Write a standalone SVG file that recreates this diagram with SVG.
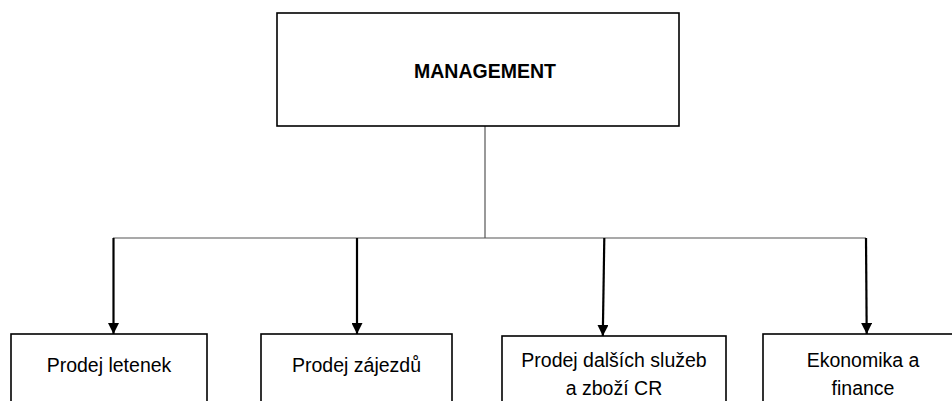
<svg xmlns="http://www.w3.org/2000/svg" width="952" height="401" viewBox="0 0 952 401">
<style>
.box{fill:#fff;stroke:#000;stroke-width:1.6}
.t{font-family:"Liberation Sans",Arial,sans-serif;font-size:19.5px;fill:#000;text-anchor:middle}
.b{font-weight:bold}
.thin{stroke:#555;stroke-width:1.2;fill:none}
.arr{stroke:#000;stroke-width:2.2;fill:none}
</style>
<defs>
<marker id="ah" viewBox="0 0 10 10" refX="10" refY="5" markerWidth="5" markerHeight="5" orient="auto" markerUnits="strokeWidth">
<path d="M0,0 L10,5 L0,10 Z" fill="#000"/>
</marker>
</defs>
<g id="connectors">
<line class="thin" x1="485" y1="126" x2="485" y2="238"/>
<line class="thin" x1="113" y1="238" x2="866" y2="238"/>
<line class="arr" x1="113.5" y1="238" x2="113.5" y2="334" marker-end="url(#ah)"/>
<line class="arr" x1="357" y1="238" x2="357" y2="334" marker-end="url(#ah)"/>
<line class="arr" x1="604.3" y1="238" x2="602.8" y2="336" marker-end="url(#ah)"/>
<line class="arr" x1="866" y1="238" x2="866.7" y2="334" marker-end="url(#ah)"/>
</g>
<g id="management">
<rect class="box" x="277" y="13" width="402" height="113"/>
<text class="t b" x="485" y="78">MANAGEMENT</text>
</g>
<g id="letenky">
<rect class="box" x="11" y="334" width="196" height="80"/>
<text class="t" x="109" y="372">Prodej letenek</text>
</g>
<g id="zajezdy">
<rect class="box" x="261" y="334" width="191" height="80"/>
<text class="t" x="356.5" y="372">Prodej zájezdů</text>
</g>
<g id="sluzby">
<rect class="box" x="502" y="336" width="224" height="80"/>
<text class="t" x="614" y="367">Prodej dalších služeb</text>
<text class="t" x="614" y="395">a zboží CR</text>
</g>
<g id="ekonomika">
<rect class="box" x="763" y="334" width="200" height="80"/>
<text class="t" x="863" y="367">Ekonomika a</text>
<text class="t" x="863" y="395">finance</text>
</g>
</svg>
